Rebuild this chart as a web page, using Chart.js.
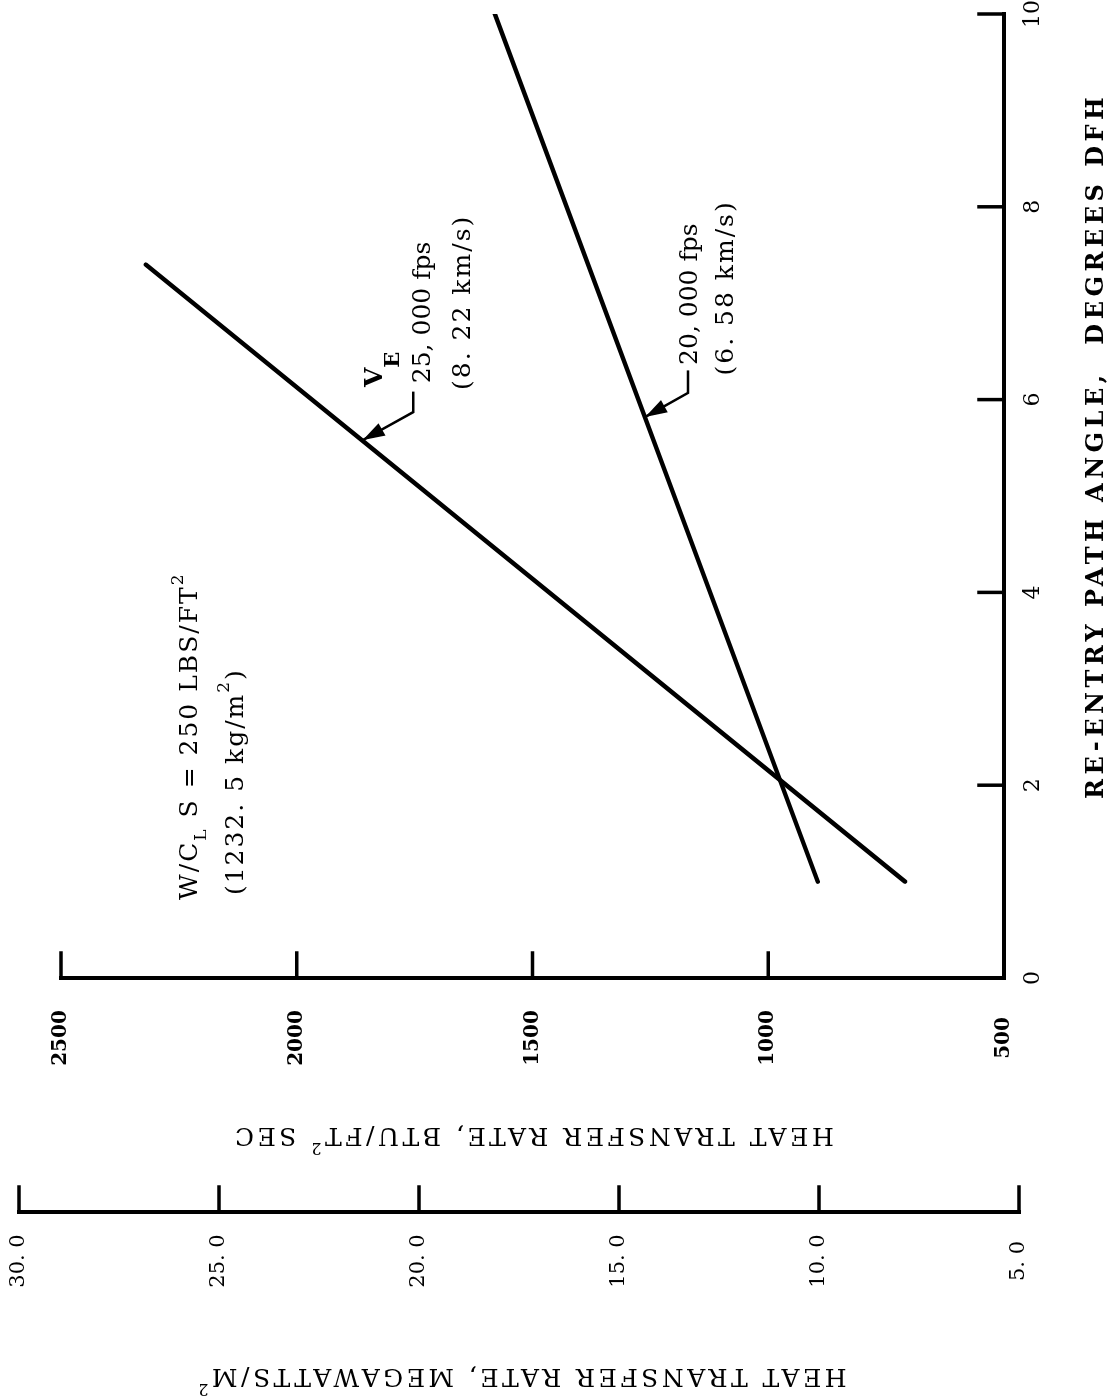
<!DOCTYPE html>
<html>
<head>
<meta charset="utf-8">
<script src="https://cdn.jsdelivr.net/npm/chart.js@4.4.0/dist/chart.umd.min.js"></script>
<style>
  html, body { margin: 0; padding: 0; background: #fff; }
  body { width: 1108px; height: 1397px; overflow: hidden; position: relative; }
  /* the chart is drawn upright and then turned a quarter turn, like the printed page */
  #wrap { position: absolute; left: 0; top: 0; width: 1397px; height: 1108px;
          transform-origin: 0 0; transform: translateY(1397px) rotate(-90deg); }
</style>
</head>
<body>
<div id="wrap"><canvas id="heatChart" width="1397" height="1108"></canvas></div>
<script>
// re-entry path angle (deg) and heat transfer rate (BTU/ft2 sec)
var v25Angle = [1.0, 7.4];
var v25Heat = [710, 2320];
var v20Angle = [1.0, 10.0];
var v20Heat = [895, 1580];

var angleTicks = [0, 2, 4, 6, 8, 10];
var btuTicks = [500, 1000, 1500, 2000, 2500];
var mwTicks = [30, 25, 20, 15, 10, 5];
var mwLabels = ['30. 0', '25. 0', '20. 0', '15. 0', '10. 0', '5. 0'];

var SERIF = '"DejaVu Serif", "Liberation Serif", serif';

function toPoints(xs, ys) {
  return xs.map(function(x, i) { return {x: x, y: ys[i]}; });
}

function textWidth(ctx, parts) {
  var w = 0;
  parts.forEach(function(p) { ctx.font = p.font; w += ctx.measureText(p.t).width; });
  return w;
}

function drawParts(ctx, parts, x, y, align) {
  ctx.textAlign = 'left';
  if (align === 'center') x -= textWidth(ctx, parts) / 2;
  parts.forEach(function(p) {
    ctx.font = p.font;
    ctx.fillText(p.t, x, y + (p.dy || 0));
    x += ctx.measureText(p.t).width;
  });
}

function drawArrow(ctx, pts) {
  ctx.lineWidth = 2.5;
  ctx.beginPath();
  ctx.moveTo(pts[0].u, pts[0].v);
  for (var i = 1; i < pts.length; i++) ctx.lineTo(pts[i].u, pts[i].v);
  ctx.stroke();
  var dx = pts[0].u - pts[1].u, dy = pts[0].v - pts[1].v;
  var len = Math.sqrt(dx * dx + dy * dy);
  dx /= len; dy /= len;
  var L = 22, W = 7;
  ctx.beginPath();
  ctx.moveTo(pts[0].u, pts[0].v);
  ctx.lineTo(pts[0].u - dx * L - dy * W, pts[0].v - dy * L + dx * W);
  ctx.lineTo(pts[0].u - dx * L + dy * W, pts[0].v - dy * L - dx * W);
  ctx.closePath();
  ctx.fill();
}

var axesPlugin = {
  id: 'rotatedAxes',
  afterDraw: function(chart) {
    var ctx = chart.ctx;
    var xs = chart.scales.x, ys = chart.scales.y, ms = chart.scales.mw;
    function P(a, b) { return {u: xs.getPixelForValue(a), v: ys.getPixelForValue(b)}; }

    ctx.save();
    ctx.strokeStyle = '#000';
    ctx.fillStyle = '#000';
    ctx.lineCap = 'square';

    // angle axis (lies along heat = 500)
    var axV = ys.getPixelForValue(500);
    var u0 = xs.getPixelForValue(0), u1 = xs.getPixelForValue(10);
    ctx.lineWidth = 4;
    ctx.beginPath(); ctx.moveTo(u0, axV); ctx.lineTo(u1, axV); ctx.stroke();
    ctx.lineWidth = 3.5;
    ctx.textAlign = 'center';
    ctx.textBaseline = 'middle';
    ctx.font = 'normal 22px ' + SERIF;
    angleTicks.forEach(function(a) {
      var u = xs.getPixelForValue(a);
      ctx.beginPath(); ctx.moveTo(u, axV); ctx.lineTo(u, axV - 25); ctx.stroke();
      ctx.fillText(String(a), u, axV + 29);
    });

    // heat rate axis, BTU/ft2 sec
    var vTop = ys.getPixelForValue(2500), vBot = ys.getPixelForValue(500);
    ctx.lineWidth = 4;
    ctx.beginPath(); ctx.moveTo(u0, vTop); ctx.lineTo(u0, vBot); ctx.stroke();
    ctx.lineWidth = 3.5;
    ctx.font = 'bold 20px ' + SERIF;
    btuTicks.forEach(function(b) {
      var v = ys.getPixelForValue(b);
      ctx.beginPath(); ctx.moveTo(u0, v); ctx.lineTo(u0 + 25, v); ctx.stroke();
      ctx.fillText(String(b), u0 - 60, v);
    });

    // heat rate axis, megawatts/m2 (drawn past the ends of the BTU scale)
    var mu = u0 - 234;
    ctx.lineWidth = 4;
    ctx.beginPath(); ctx.moveTo(mu, ms.getPixelForValue(30)); ctx.lineTo(mu, ms.getPixelForValue(5)); ctx.stroke();
    ctx.lineWidth = 3.5;
    ctx.font = 'normal 21px ' + SERIF;
    mwTicks.forEach(function(m, i) {
      var v = ms.getPixelForValue(m);
      ctx.beginPath(); ctx.moveTo(mu, v); ctx.lineTo(mu + 25, v); ctx.stroke();
      ctx.fillText(mwLabels[i], mu - 49, v);
    });

    // axis titles
    ctx.textBaseline = 'middle';
    ctx.letterSpacing = '4.5px';
    ctx.font = 'bold 24px ' + SERIF;
    ctx.fillText('RE-ENTRY PATH ANGLE,  DEGREES DFH', xs.getPixelForValue(5.52), axV + 93);

    ctx.letterSpacing = '3.5px';
    var fH = 'normal 25px ' + SERIF, fHs = 'normal 16px ' + SERIF;
    ctx.save();
    ctx.translate(u0 - 157, ys.getPixelForValue(1500));
    ctx.rotate(-Math.PI / 2);
    drawParts(ctx, [{t: 'HEAT TRANSFER RATE, BTU/FT', font: fH}, {t: '2', font: fHs, dy: -12}, {t: ' SEC', font: fH}], 0, 0, 'center');
    ctx.restore();
    ctx.save();
    ctx.translate(u0 - 398, ys.getPixelForValue(1525));
    ctx.rotate(-Math.PI / 2);
    drawParts(ctx, [{t: 'HEAT TRANSFER RATE, MEGAWATTS/M', font: fH}, {t: '2', font: fHs, dy: -12}], 0, 0, 'center');
    ctx.restore();

    // notes
    ctx.textBaseline = 'alphabetic';
    var fN = 'normal 25px ' + SERIF, fNs = 'normal 17px ' + SERIF;
    var fB = 'bold 25px ' + SERIF, fBs = 'bold 21px ' + SERIF;
    ctx.letterSpacing = '2px';
    var p = P(0.81, 2212);
    drawParts(ctx, [{t: 'W/C', font: fN}, {t: 'L', font: fNs, dy: 9}, {t: ' S = 250 LBS/FT', font: fN}, {t: '2', font: fNs, dy: -14}], p.u, p.v);
    p = P(0.86, 2114);
    drawParts(ctx, [{t: '(1232. 5 kg/m', font: fN}, {t: '2', font: fNs, dy: -14}, {t: ')', font: fN}], p.u, p.v);
    p = P(6.10, 1633);
    drawParts(ctx, [{t: '(8. 22 km/s)', font: fN}], p.u, p.v);
    p = P(6.25, 1075);
    drawParts(ctx, [{t: '(6. 58 km/s)', font: fN}], p.u, p.v);

    ctx.letterSpacing = '0px';
    p = P(6.13, 1819);
    drawParts(ctx, [{t: 'V', font: fB}, {t: 'E', font: fBs, dy: 17}], p.u, p.v);
    p = P(6.17, 1717);
    drawParts(ctx, [{t: '25, 000 fps', font: fN}], p.u, p.v);
    p = P(6.36, 1151);
    drawParts(ctx, [{t: '20, 000 fps', font: fN}], p.u, p.v);

    // leaders with arrow heads onto the curves
    drawArrow(ctx, [P(5.58, 1860), P(5.87, 1753), P(6.07, 1753)]);
    drawArrow(ctx, [P(5.82, 1261), P(6.07, 1170), P(6.29, 1170)]);
    ctx.restore();
  }
};

new Chart(document.getElementById('heatChart').getContext('2d'), {
  type: 'line',
  data: {
    datasets: [{
      label: '25,000 fps',
      data: toPoints(v25Angle, v25Heat),
      borderColor: '#000',
      borderWidth: 4.5,
      pointRadius: 0,
      borderCapStyle: 'round'
    }, {
      label: '20,000 fps',
      data: toPoints(v20Angle, v20Heat),
      borderColor: '#000',
      borderWidth: 4.5,
      pointRadius: 0,
      borderCapStyle: 'round'
    }]
  },
  options: {
    responsive: false,
    animation: false,
    layout: { padding: { left: 419, right: 14, top: 61, bottom: 104 } },
    plugins: {
      legend: { display: false },
      tooltip: { enabled: false }
    },
    scales: {
      x: { type: 'linear', min: 0, max: 10, display: false },
      y: { type: 'linear', min: 500, max: 2500, display: false },
      // MW scale is not tied to the BTU one on the original; this range puts 30 and 5 where they are drawn
      mw: { type: 'linear', position: 'left', min: 5.375, max: 28.95, display: false }
    }
  },
  plugins: [axesPlugin]
});
</script>
</body>
</html>
